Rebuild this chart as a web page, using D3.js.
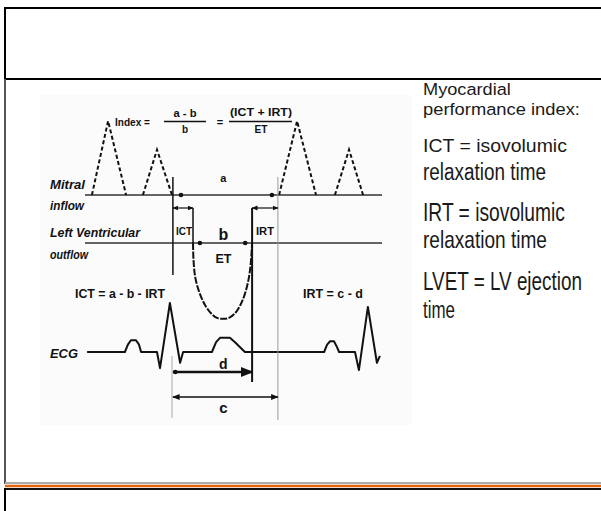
<!DOCTYPE html>
<head>
<meta charset="utf-8">
<script src="https://cdn.jsdelivr.net/npm/d3@7"></script>
<title>Myocardial performance index</title>
<style>
  body { margin: 0; background: #fff; }
  text { font-family: "Liberation Sans", Arial, sans-serif; }
</style>
</head>
<body>
<div id="slide"></div>
<script>

// --- data (time in ms from the left edge of the tracing) ---

// mitral inflow doppler waves: E and A, two beats
var mitralStart = [23, 193, 647, 833];
var mitralPeak  = [77, 240, 707, 880];
var mitralEnd   = [137, 290, 770, 927];
var mitralVel   = [0.80, 0.49, 0.80, 0.49];   // m/s

// valve events
var mitralClose   = 293;
var ejectionStart = 360;
var ejectionEnd   = 557;
var mitralOpen    = 643;
var traceEnd      = 990;

// LV outflow velocity profile (m/s, towards the probe is negative)
var lvotTime = [360, 362, 368, 383, 400, 420, 440, 460, 480, 500, 518, 533, 546, 553, 557];
var lvotVel  = [0, -0.2, -0.38, -0.55, -0.67, -0.76, -0.81, -0.82, -0.81, -0.76, -0.67, -0.55, -0.38, -0.2, 0];

// ECG trace (mV)
var ecgTime = [7, 133, 143, 153, 170, 180, 187, 240, 250, 283, 317, 327, 423, 437, 450, 483, 500, 533,
               797, 807, 817, 830, 840, 847, 900, 913, 943, 973, 983];
var ecgVolt = [0, 0, 0.15, 0.24, 0.24, 0.15, 0, 0, -0.33, 1.0, -0.22, 0, 0, 0.2, 0.29, 0.29, 0.2, 0,
               0, 0.15, 0.22, 0.22, 0.1, 0, 0, -0.37, 0.92, -0.22, -0.08];

// legend text on the right
var legendLines = ["Myocardial", "performance index:", "ICT = isovolumic", "relaxation time",
                   "IRT = isovolumic", "relaxation time", "LVET = LV ejection", "time"];

// --- layout ---
var width = 601,
    height = 511;

var svg = d3.select("#slide")
    .append("svg")
    .attr("width", width)
    .attr("height", height);

// scales: one time axis, one amplitude scale per tracing
var x = d3.scaleLinear().domain([0, 1000]).range([85, 385]);
var yMitral = d3.scaleLinear().domain([0, 1]).range([195, 102.5]);
var yLvot = d3.scaleLinear().domain([0, -1]).range([243, 335.5]);
var yEcg = d3.scaleLinear().domain([0, 1]).range([352, 303]);

// slide frame
var frame = svg.append("g");
function fline(x1, y1, x2, y2, color, w) {
    frame.append("line").attr("x1", x1).attr("y1", y1).attr("x2", x2).attr("y2", y2)
        .attr("stroke", color).attr("stroke-width", w);
}
fline(5, 8, width, 8, "#000", 2);
fline(5, 79, width, 79, "#000", 2);
fline(5, 7, 5, 79, "#000", 2);
fline(5, 79, 5, 484, "#555", 2);
fline(5, 483, width, 483, "#aaa", 2);
fline(5, 486, width, 486, "#e2650f", 2.5);
fline(5, 489, width, 489, "#111", 2);
fline(5, 488, 5, height, "#000", 2);

// faint scanned-figure background
svg.append("rect").attr("x", 40).attr("y", 95).attr("width", 372).attr("height", 330)
    .attr("fill", "#fbfbfb");

var g = svg.append("g");

// arrowhead marker
g.append("defs").append("marker")
    .attr("id", "arrow")
    .attr("viewBox", "0 -5 10 10")
    .attr("refX", 9).attr("refY", 0)
    .attr("markerWidth", 5).attr("markerHeight", 5)
    .attr("orient", "auto-start-reverse")
    .append("path")
    .attr("d", "M0,-4L10,0L0,4Z")
    .attr("fill", "#111");

// baselines
g.append("line").attr("x1", x(0)).attr("x2", x(traceEnd))
    .attr("y1", yMitral(0)).attr("y2", yMitral(0))
    .attr("stroke", "#333").attr("stroke-width", 1.5);
g.append("line").attr("x1", x(0)).attr("x2", x(traceEnd))
    .attr("y1", yLvot(0)).attr("y2", yLvot(0))
    .attr("stroke", "#333").attr("stroke-width", 1.5);

// mitral E/A triangles (dashed doppler envelopes)
var waves = mitralStart.map(function(s, i) {
    return [[s, 0], [mitralPeak[i], mitralVel[i]], [mitralEnd[i], 0]];
});
var mitralLine = d3.line().x(d => x(d[0])).y(d => yMitral(d[1]));
g.selectAll(".wave")
    .data(waves)
    .enter().append("path")
    .attr("class", "wave")
    .attr("d", mitralLine)
    .attr("fill", "none")
    .attr("stroke", "#111")
    .attr("stroke-width", 2)
    .attr("stroke-dasharray", "4,2.5");

// LV outflow envelope
var lvotLine = d3.line().x(d => x(d[0])).y(d => yLvot(d[1])).curve(d3.curveCatmullRom);
g.append("path")
    .attr("d", lvotLine(lvotTime.map((t, i) => [t, lvotVel[i]])))
    .attr("fill", "none")
    .attr("stroke", "#111")
    .attr("stroke-width", 2)
    .attr("stroke-dasharray", "7,1.5");

// ECG
var ecgLine = d3.line().x(d => x(d[0])).y(d => yEcg(d[1]));
g.append("path")
    .attr("d", ecgLine(ecgTime.map((t, i) => [t, ecgVolt[i]])))
    .attr("fill", "none")
    .attr("stroke", "#111")
    .attr("stroke-width", 2)
    .attr("stroke-linejoin", "round");

// event markers (vertical lines)
function vline(t, y1, y2, color, w) {
    g.append("line").attr("x1", x(t)).attr("x2", x(t)).attr("y1", y1).attr("y2", y2)
        .attr("stroke", color).attr("stroke-width", w);
}
vline(mitralClose, 177, 275, "#111", 1.5);
vline(mitralClose - 3, 356, 418, "#aaa", 1);
vline(ejectionStart, 208, yLvot(0), "#111", 1.5);
vline(ejectionEnd, 208, 382, "#111", 2);
vline(mitralOpen, 177, 420, "#999", 1);

// interval arrows
function arrow(t1, t2, y, w, startMark) {
    var l = g.append("line").attr("x1", x(t1)).attr("x2", x(t2)).attr("y1", y).attr("y2", y)
        .attr("stroke", "#111").attr("stroke-width", w)
        .attr("marker-end", "url(#arrow)");
    if (startMark) l.attr("marker-start", "url(#arrow)");
}
arrow(mitralClose, ejectionStart, 208, 1.2, true);   // ICT
arrow(ejectionEnd, mitralOpen, 208, 1.2, true);      // IRT
arrow(mitralClose, ejectionEnd, 372, 2.5, false);    // d
arrow(mitralClose, mitralOpen, 397, 1.5, true);      // c

// dots marking a and b
var dots = [[mitralClose + 27, yMitral(0)], [mitralOpen - 20, yMitral(0)],
            [ejectionStart + 23, yLvot(0)], [ejectionEnd - 23, yLvot(0)],
            [mitralClose + 8, 372]];
g.selectAll(".dot")
    .data(dots)
    .enter().append("circle")
    .attr("cx", d => x(d[0])).attr("cy", d => d[1])
    .attr("r", 2.3).attr("fill", "#111");

// diagram labels
function label(txt, px, py, size, opts) {
    opts = opts || {};
    var t = g.append("text").attr("x", px).attr("y", py)
        .attr("font-size", size)
        .attr("font-weight", "bold")
        .attr("fill", "#111")
        .attr("text-anchor", opts.anchor || "start")
        .text(txt);
    if (opts.italic) t.attr("font-style", "italic");
    if (opts.len) t.attr("textLength", opts.len).attr("lengthAdjust", "spacingAndGlyphs");
    return t;
}
var mid = x((mitralClose + mitralOpen) / 2) - 2;

label("Mitral", 50, 189, 12, {italic: true, len: 35});
label("inflow", 50, 210, 12, {italic: true, len: 34});
label("Left Ventricular", 50, 237, 12, {italic: true, len: 90});
label("outflow", 50, 259, 12, {italic: true, len: 38});
label("ECG", 50, 358, 13, {italic: true, len: 28});

label("a", mid, 182, 11, {anchor: "middle"});
label("b", mid, 240, 16, {anchor: "middle"});
label("ET", mid, 263, 12, {anchor: "middle", len: 16});
label("d", mid, 369, 14, {anchor: "middle"});
label("c", mid, 413, 15, {anchor: "middle"});
label("ICT", 184, 235, 11, {anchor: "middle", len: 16});
label("IRT", 265, 235, 11, {anchor: "middle", len: 18});
label("ICT = a - b - IRT", 75, 298, 13, {len: 90});
label("IRT = c - d", 303, 298, 13, {len: 60});

// index formula
label("Index =", 115, 126, 11, {len: 35});
label("a - b", 185, 117, 10, {anchor: "middle", len: 23});
label("b", 185, 133, 10, {anchor: "middle"});
label("=", 220, 126, 11, {anchor: "middle"});
label("(ICT + IRT)", 261, 116, 10, {anchor: "middle", len: 62});
label("ET", 261, 133, 10, {anchor: "middle", len: 13});
g.append("line").attr("x1", 164).attr("x2", 206).attr("y1", 121.5).attr("y2", 121.5)
    .attr("stroke", "#111").attr("stroke-width", 1.5);
g.append("line").attr("x1", 229).attr("x2", 292).attr("y1", 121.5).attr("y2", 121.5)
    .attr("stroke", "#111").attr("stroke-width", 1.5);

// right hand legend text, squeezed horizontally like the original slide font
var legendY    = [95, 115, 152, 180, 221, 248, 290, 318];
var legendSize = [17, 17, 19, 24, 25, 24, 25, 24];
var legendLen  = [88, 157, 144, 123, 142, 124, 159, 32];
svg.selectAll(".legend")
    .data(legendLines)
    .enter().append("text")
    .attr("class", "legend")
    .attr("x", 0)
    .attr("y", 0)
    .attr("font-size", (d, i) => legendSize[i])
    .attr("fill", "#1a1a1a")
    .text(d => d)
    .attr("transform", function(d, i) {
        var sx = legendLen[i] / this.getComputedTextLength();
        return "translate(423," + legendY[i] + ") scale(" + sx + ",1)";
    });

</script>
</body>
